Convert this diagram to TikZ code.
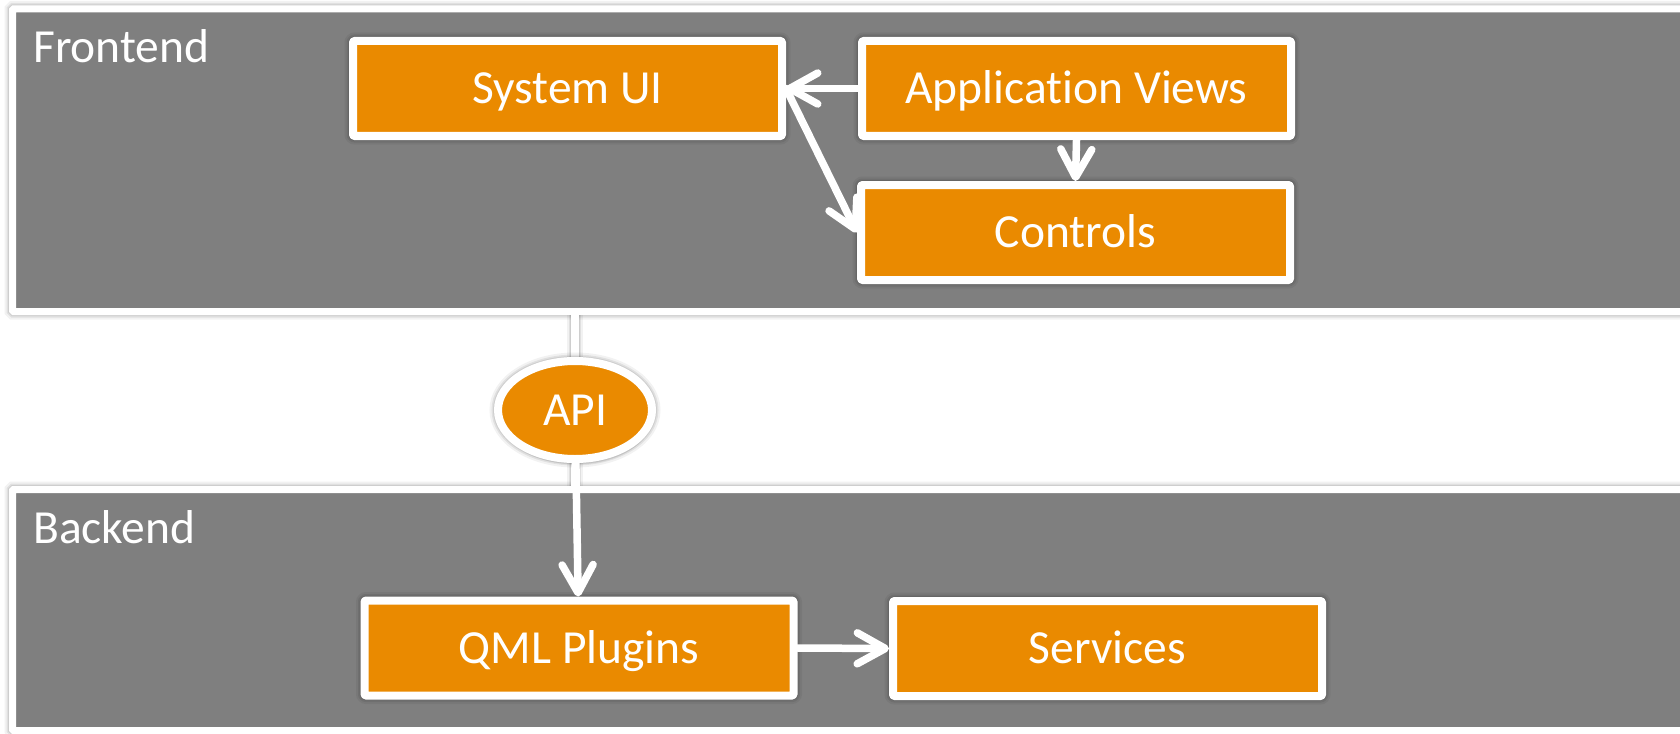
\documentclass[tikz,border=0pt]{standalone}
\usepackage{fontspec}
\setmainfont{Carlito}[Ligatures=NoCommon]
\usetikzlibrary{arrows.meta,shadows,shapes.geometric}
\definecolor{panelgray}{HTML}{7F7F7F}
\definecolor{boxorange}{HTML}{EA8A00}
\pgfdeclarelayer{panels}
\pgfdeclarelayer{links}
\pgfsetlayers{panels,links,main}
\begin{document}
\begin{tikzpicture}[x=1pt,y=-1pt,
  every node/.style={font=\fontsize{47.5}{56}\selectfont, text=white},
  % soft dark rim drawn under a white outline
  halo/.style={
    preaction={draw=black, draw opacity=0.05, line width=#1+9pt},
    preaction={draw=black, draw opacity=0.07, line width=#1+5pt},
    preaction={draw=black, draw opacity=0.08, line width=#1+2pt}},
  panel/.style={rectangle, draw=white, fill=panelgray, line width=7pt,
    rounded corners=1pt, inner sep=0pt, halo=7pt},
  block/.style={rectangle, draw=white, fill=boxorange, line width=8pt,
    rounded corners=1pt, line join=round, minimum width=429pt,
    minimum height=95pt, inner sep=0pt, text height=30pt, text depth=0pt,
    halo=8pt,
    drop shadow={shadow xshift=1pt, shadow yshift=-5.5pt, opacity=0.18}},
  hub/.style={ellipse, draw=white, fill=boxorange, line width=8pt,
    minimum width=154pt, minimum height=98pt, inner sep=0pt,
    text height=30pt, text depth=0pt, halo=8pt,
    drop shadow={shadow xshift=1pt, shadow yshift=-5.5pt, opacity=0.15}},
  tag/.style={anchor=base west, inner sep=0pt},
  link/.style={draw=white, line width=7.5pt, line cap=round},
  linkhalo/.style={halo=7.5pt, draw=white, line width=7.5pt},
  flow/.style={link, -{Straight Barb[length=28pt, width=31pt, round]}}
]
\clip (0,0) rectangle (1680,733);

% layer panels
\begin{pgfonlayer}{panels}
\fill[white] (0,0) rectangle (1680,733);
\node[panel, minimum width=1687.5pt, minimum height=302.5pt] (fe) at (856.25,160.25) {};
\node[panel, minimum width=1687.5pt, minimum height=241pt] (be) at (856.25,610) {};
\end{pgfonlayer}
\node[tag] (fetag) at (33,63) {Frontend};
\node[tag] (betag) at (33,543) {Backend};

% frontend blocks
\node[block] (sys) at (567.5,88.5) {System UI};
\node[block] (app) at (1076.5,88.5) {Application Views};
\node[block] (ctl) at (1075.5,232.5) {Controls};

% API
\node[hub] (api) at (575,410) {API};

% backend blocks
\node[block] (qml) at (579,648) {QML Plugins};
\node[block] (svc) at (1107.5,648.5) {Services};

% links crossing the white gap between the layers
\begin{pgfonlayer}{links}
\path[linkhalo] (fe.south -| api.north) -- (api.north);
\path[linkhalo] (api.south) -- (be.north -| api.south);
\draw[link] (fe.south -| api.north) -- (api.north);
\end{pgfonlayer}

% connectors
\draw[flow] (app.west) -- (sys.east);
\draw[flow] (sys.east) -- (ctl.west);
\draw[flow] (app.south) -- (ctl.north);
\draw[flow] (api) -- (qml);
\draw[flow] (qml.east) -- (svc.west);
\end{tikzpicture}
\end{document}
